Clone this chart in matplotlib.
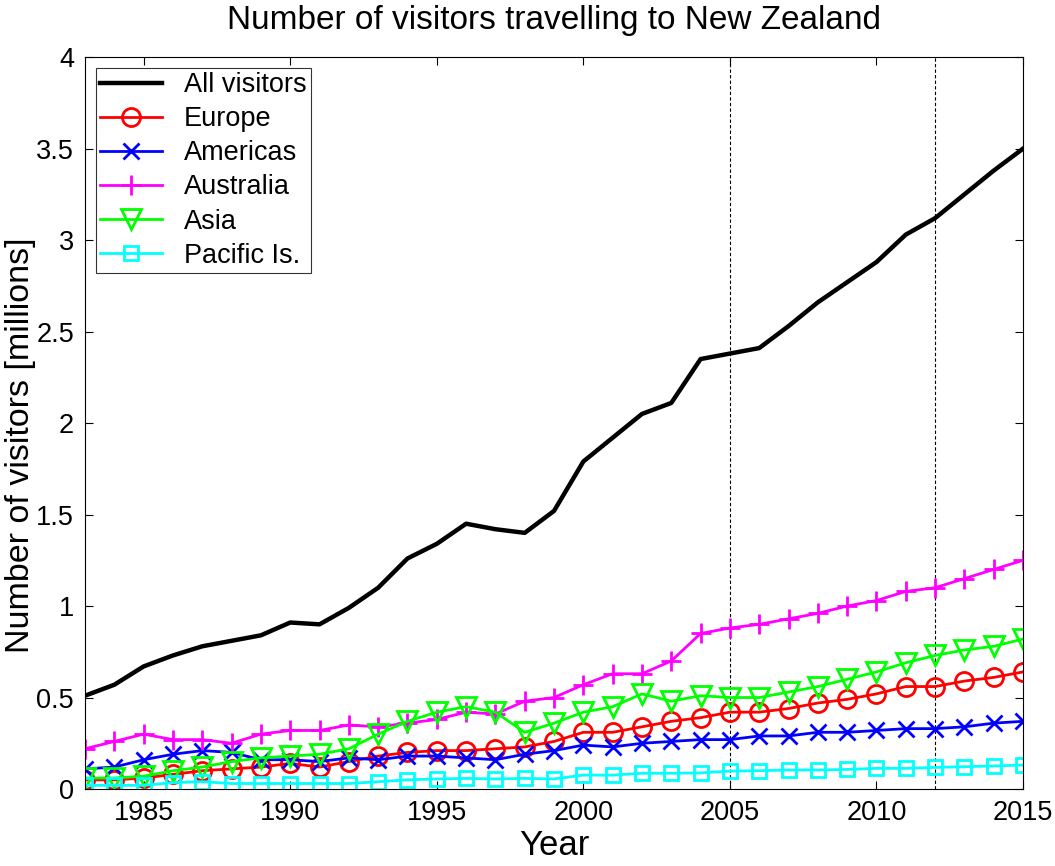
import matplotlib

matplotlib.use("Agg")
import matplotlib.pyplot as plt

plt.rcParams["font.family"] = ["Liberation Sans", "DejaVu Sans"]

# Visitor numbers (millions)
years = list(range(1983, 2016))

all_visitors = [0.51, 0.57, 0.67, 0.73, 0.78, 0.81, 0.84, 0.91, 0.90, 0.99,
                1.10, 1.26, 1.34, 1.45, 1.42, 1.40, 1.52, 1.79, 1.92, 2.05,
                2.11, 2.35, 2.38, 2.41, 2.53, 2.66, 2.77, 2.88, 3.03, 3.12,
                3.25, 3.38, 3.50]
europe = [0.05, 0.05, 0.06, 0.08, 0.10, 0.11, 0.12, 0.14, 0.12, 0.15,
          0.18, 0.20, 0.21, 0.21, 0.22, 0.23, 0.26, 0.31, 0.31, 0.34,
          0.37, 0.39, 0.42, 0.42, 0.44, 0.47, 0.49, 0.52, 0.56, 0.56,
          0.59, 0.61, 0.64]
americas = [0.11, 0.12, 0.16, 0.19, 0.21, 0.20, 0.16, 0.16, 0.15, 0.17,
            0.16, 0.18, 0.18, 0.17, 0.16, 0.19, 0.21, 0.24, 0.23, 0.25,
            0.26, 0.27, 0.27, 0.29, 0.29, 0.31, 0.31, 0.32, 0.33, 0.33,
            0.34, 0.36, 0.37]
australia = [0.22, 0.26, 0.30, 0.27, 0.27, 0.25, 0.30, 0.32, 0.32, 0.35,
             0.34, 0.36, 0.38, 0.42, 0.41, 0.48, 0.50, 0.57, 0.63, 0.63,
             0.70, 0.85, 0.88, 0.90, 0.93, 0.96, 1.00, 1.03, 1.08, 1.10,
             1.15, 1.20, 1.25]
asia = [0.06, 0.06, 0.07, 0.10, 0.12, 0.15, 0.17, 0.18, 0.19, 0.22,
        0.30, 0.37, 0.42, 0.45, 0.42, 0.31, 0.36, 0.42, 0.45, 0.52,
        0.48, 0.51, 0.50, 0.50, 0.53, 0.56, 0.60, 0.64, 0.69, 0.73,
        0.76, 0.78, 0.82]
pacific = [0.02, 0.02, 0.02, 0.035, 0.04, 0.03, 0.03, 0.03, 0.03, 0.03,
           0.04, 0.05, 0.055, 0.058, 0.055, 0.058, 0.055, 0.076, 0.076, 0.086,
           0.086, 0.088, 0.098, 0.10, 0.104, 0.104, 0.107, 0.113, 0.113, 0.118,
           0.122, 0.126, 0.131]

fig = plt.figure(figsize=(10.55, 8.66), dpi=100)
ax = fig.add_axes([0.0806, 0.0889, 0.8891, 0.8451])

# dashed markers for 2005 and 2012
for yr in [2005, 2012]:
    ax.axvline(yr, color="black", linestyle=(0, (3, 2)), linewidth=0.8, zorder=1)

ax.plot(years, all_visitors, color="black", linewidth=3.2, label="All visitors")
ax.plot(years, europe, color="red", linewidth=2, marker="o", markersize=13,
        markerfacecolor="none", markeredgewidth=2, label="Europe")
ax.plot(years, americas, color="blue", linewidth=2, marker="x", markersize=11,
        markeredgewidth=2, label="Americas")
ax.plot(years, australia, color="magenta", linewidth=2, marker="+", markersize=15,
        markeredgewidth=2, label="Australia")
ax.plot(years, asia, color="#00ff00", linewidth=2, marker="v", markersize=14,
        markerfacecolor="none", markeredgewidth=2, label="Asia")
ax.plot(years, pacific, color="cyan", linewidth=2, marker="s", markersize=10,
        markerfacecolor="none", markeredgewidth=2, label="Pacific Is.")

ax.set_xlim(1983, 2015)
ax.set_ylim(0, 4)
ax.set_xticks([1985, 1990, 1995, 2000, 2005, 2010, 2015])
ax.set_yticks([0, 0.5, 1, 1.5, 2, 2.5, 3, 3.5, 4])
ax.set_yticklabels(["0", "0.5", "1", "1.5", "2", "2.5", "3", "3.5", "4"])
ax.tick_params(direction="in", top=True, right=True, labelsize=19.5,
               length=6, width=0.8, pad=8)
for s in ax.spines.values():
    s.set_linewidth(0.8)

ax.set_title("Number of visitors travelling to New Zealand", fontsize=24, pad=20)
ax.set_xlabel("Year", fontsize=25)
ax.xaxis.set_label_coords(0.5, -0.054)
ax.set_ylabel("Number of visitors [millions]", fontsize=24.5)
ax.yaxis.set_label_coords(-0.052, 0.47)

leg = ax.legend(loc="upper left", fontsize=19.5, frameon=True, fancybox=False,
                edgecolor="black", handlelength=2.3, borderaxespad=0.4,
                labelspacing=0.3, handletextpad=0.8, borderpad=0.15)
leg.get_frame().set_linewidth(0.8)

fig.savefig("out.png", dpi=100)
